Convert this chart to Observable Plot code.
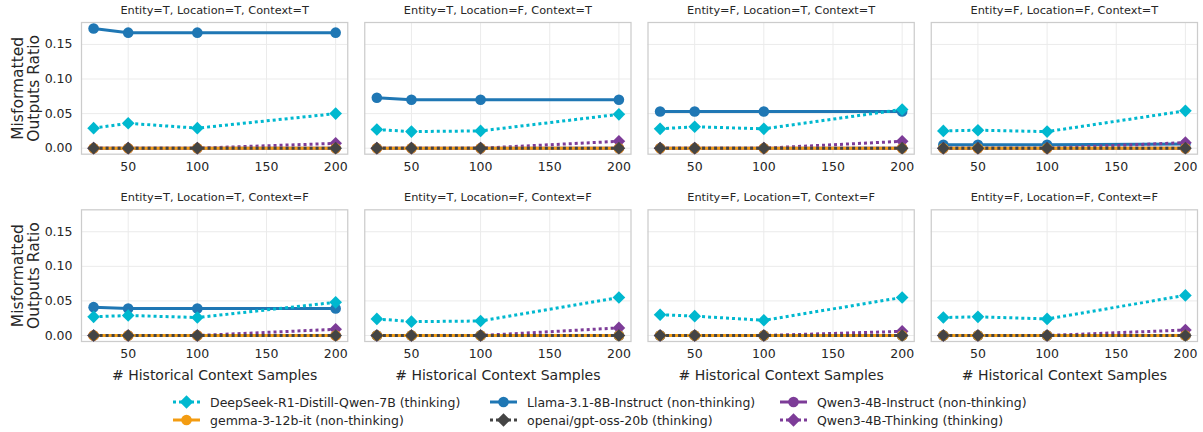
<!DOCTYPE html>
<html>
<head>
<meta charset="utf-8">
<script src="https://cdn.jsdelivr.net/npm/d3@7"></script>
<script src="https://cdn.jsdelivr.net/npm/@observablehq/plot@0.6"></script>
<style>
  html, body { margin: 0; padding: 0; background: #fff; }
  body { width: 1203px; height: 432px; overflow: hidden; font-family: "DejaVu Sans", sans-serif; color: #262626; }
  #chart { position: relative; width: 1203px; }
  #legend { position: relative; width: 1203px; height: 44px; }
  .item { position: absolute; display: flex; align-items: center; font-size: 12.5px; white-space: nowrap; }
  .item svg { margin-right: 10px; }
</style>
</head>
<body>
<div id="chart"></div>
<div id="legend"></div>
<script>
// ---- data ----
const samples = [25, 50, 100, 200];
const panelTitles = [
  "Entity=T, Location=T, Context=T",
  "Entity=T, Location=F, Context=T",
  "Entity=F, Location=T, Context=T",
  "Entity=F, Location=F, Context=T",
  "Entity=T, Location=T, Context=F",
  "Entity=T, Location=F, Context=F",
  "Entity=F, Location=T, Context=F",
  "Entity=F, Location=F, Context=F"
];
const models = [
  "DeepSeek-R1-Distill-Qwen-7B (thinking)",
  "gemma-3-12b-it (non-thinking)",
  "Llama-3.1-8B-Instruct (non-thinking)",
  "openai/gpt-oss-20b (thinking)",
  "Qwen3-4B-Instruct (non-thinking)",
  "Qwen3-4B-Thinking (thinking)"
];
const modelColors = ["#00b8cf", "#f39c12", "#1f77b4", "#444444", "#7d3c98", "#7d3c98"];
// values per panel (8 panels x 4 sample sizes)
const deepseek = [
  [0.029, 0.036, 0.029, 0.050],
  [0.027, 0.024, 0.025, 0.049],
  [0.028, 0.031, 0.028, 0.056],
  [0.025, 0.026, 0.024, 0.054],
  [0.027, 0.029, 0.026, 0.048],
  [0.024, 0.020, 0.021, 0.055],
  [0.030, 0.028, 0.022, 0.055],
  [0.026, 0.027, 0.024, 0.058]
];
const gemma = [
  [0, 0, 0, 0], [0, 0, 0, 0], [0, 0, 0, 0], [0, 0, 0, 0],
  [0, 0, 0, 0], [0, 0, 0, 0], [0, 0, 0, 0], [0, 0, 0, 0]
];
const llama = [
  [0.173, 0.167, 0.167, 0.167],
  [0.073, 0.070, 0.070, 0.070],
  [0.053, 0.053, 0.053, 0.053],
  [0.005, 0.005, 0.005, 0.006],
  [0.041, 0.039, 0.039, 0.039],
  [0, 0, 0, 0],
  [0, 0, 0, 0],
  [0, 0, 0, 0]
];
const gptoss = [
  [0, 0, 0, 0], [0, 0, 0, 0], [0, 0, 0, 0], [0, 0, 0, 0],
  [0, 0, 0, 0], [0, 0, 0, 0], [0, 0, 0, 0], [0, 0, 0, 0]
];
const qwenInstruct = [
  [0, 0, 0, 0], [0, 0, 0, 0], [0, 0, 0, 0], [0, 0, 0, 0],
  [0, 0, 0, 0], [0, 0, 0, 0], [0, 0, 0, 0], [0, 0, 0, 0]
];
const qwenThinking = [
  [0, 0, 0, 0.007],
  [0, 0, 0, 0.010],
  [0, 0, 0, 0.010],
  [0, 0, 0, 0.008],
  [0, 0, 0, 0.009],
  [0, 0, 0, 0.011],
  [0, 0, 0, 0.006],
  [0, 0, 0, 0.008]
];
const yTicks = [0, 0.05, 0.10, 0.15];
const xTicks = [50, 100, 150, 200];

// ---- build table ----
const seriesValues = [deepseek, gemma, llama, gptoss, qwenInstruct, qwenThinking];
const thinking = models.map(m => m.includes("(thinking)"));
const panels = panelTitles.map((t, i) => ({title: t, col: i % 4, row: i < 4 ? "top" : "bottom"}));
const rows = [];
seriesValues.forEach((vals, mi) => {
  vals.forEach((pv, pi) => {
    pv.forEach((v, xi) => rows.push({model: models[mi], mi, col: panels[pi].col, row: panels[pi].row, x: samples[xi], y: v}));
  });
});

// draw order: Qwen-Instruct underneath, gpt-oss on top
const drawOrder = [4, 2, 0, 5, 1, 3];
const seriesMarks = [];
for (const mi of drawOrder) {
  const d = rows.filter(r => r.mi === mi);
  seriesMarks.push(Plot.line(d, {
    x: "x", y: "y", fx: "col", fy: "row",
    stroke: modelColors[mi], strokeWidth: 3,
    strokeDasharray: thinking[mi] ? "3,3" : null,
    strokeLinecap: "butt"
  }));
  seriesMarks.push(Plot.dot(d, {
    x: "x", y: "y", fx: "col", fy: "row",
    symbol: thinking[mi] ? "diamond2" : "circle",
    r: thinking[mi] ? 5.7 : 5.3,
    fill: modelColors[mi], stroke: "none"
  }));
}

const leftPanels = panels.filter(p => p.col === 0);
const bottomPanels = panels.filter(p => p.row === "bottom");

const chart = Plot.plot({
  width: 1203,
  height: 388,
  marginLeft: 81,
  marginRight: 6,
  marginTop: 22,
  marginBottom: 47,
  style: {fontFamily: "DejaVu Sans, sans-serif", color: "#262626", background: "#fff"},
  fx: {domain: [0, 1, 2, 3], paddingInner: 0.06, paddingOuter: 0, round: false, axis: null},
  fy: {domain: ["top", "bottom"], paddingInner: 0.297, paddingOuter: 0, round: false, axis: null},
  x: {domain: [16.25, 208.75]},
  y: {domain: [-0.00865, 0.1817]},
  marks: [
    Plot.gridX(xTicks, {stroke: "#ebebeb", strokeOpacity: 1, strokeWidth: 1, facetAnchor: null}),
    Plot.gridY(yTicks, {stroke: "#ebebeb", strokeOpacity: 1, strokeWidth: 1, facetAnchor: null}),
    Plot.frame({stroke: "#cccccc", strokeWidth: 1.25}),
    Plot.axisX({ticks: xTicks, tickSize: 0, tickPadding: 8, fontSize: 12.5, label: null, facetAnchor: null}),
    Plot.axisY({ticks: yTicks, tickSize: 0, tickPadding: 9, fontSize: 12.5, label: null, tickFormat: d3.format(".2f")}),
    Plot.text(panels, {fx: "col", fy: "row", text: "title", frameAnchor: "top", dy: -12, fontSize: 11.3, lineAnchor: "middle", textAnchor: "middle"}),
    Plot.text(leftPanels, {fx: "col", fy: "row", text: () => "Misformatted\nOutputs Ratio", frameAnchor: "left", dx: -56, rotate: -90, textAnchor: "middle", lineAnchor: "middle", fontSize: 15.5, lineHeight: 1.03}),
    Plot.text(bottomPanels, {fx: "col", fy: "row", text: () => "# Historical Context Samples", frameAnchor: "bottom", dy: 34, textAnchor: "middle", lineAnchor: "middle", fontSize: 14}),
    ...seriesMarks
  ]
});
document.getElementById("chart").appendChild(chart);

// ---- legend ----
const legend = document.getElementById("legend");
const legendPos = [
  {left: 173, top: 5}, {left: 173, top: 23},
  {left: 490, top: 5}, {left: 490, top: 23},
  {left: 780, top: 5}, {left: 780, top: 23}
];
models.forEach((m, i) => {
  const item = document.createElement("div");
  item.className = "item";
  item.style.left = legendPos[i].left + "px";
  item.style.top = legendPos[i].top + "px";
  item.style.height = "18px";
  const c = modelColors[i];
  const marker = thinking[i]
    ? `<path d="M13.5,2.3 L20.2,9 L13.5,15.7 L6.8,9 Z" fill="${c}"/>`
    : `<circle cx="13.5" cy="9" r="5.3" fill="${c}"/>`;
  item.innerHTML = `<svg width="27" height="18" viewBox="0 0 27 18"><line x1="0" x2="27" y1="9" y2="9" stroke="${c}" stroke-width="3" ${thinking[i] ? 'stroke-dasharray="3,3"' : ''}/>${marker}</svg><span>${m}</span>`;
  legend.appendChild(item);
});
</script>
</body>
</html>
